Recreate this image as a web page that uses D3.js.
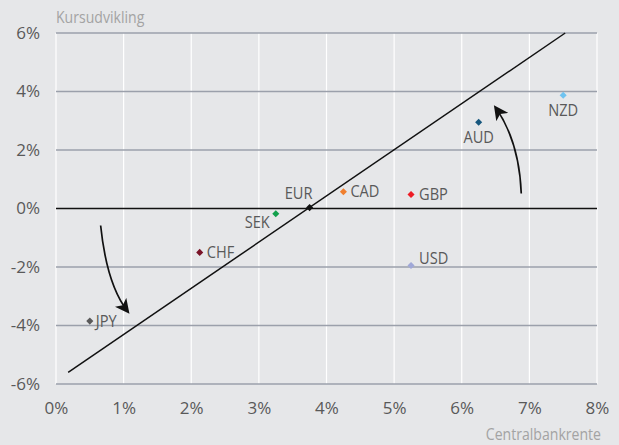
<!DOCTYPE html>
<html>
<head>
<meta charset="utf-8">
<script src="https://cdn.jsdelivr.net/npm/d3@7"></script>
<style>
  html, body { margin: 0; padding: 0; background: #e6e7e9; }
  svg { display: block; }
  text { font-family: "Open Sans", sans-serif; }
</style>
</head>
<body>
<svg id="chart" width="619" height="445"></svg>
<script>
// Currencies: central bank rate (%) vs. exchange-rate change (%)
const currencies = ["JPY", "CHF", "SEK", "EUR", "CAD", "GBP", "USD", "AUD", "NZD"];
const policyRate = [0.5, 2.125, 3.25, 3.75, 4.25, 5.25, 5.25, 6.25, 7.5];
const fxChange   = [-3.85, -1.5, -0.18, 0.03, 0.57, 0.48, -1.95, 2.95, 3.87];
const pointColors = ["#5a5a5a", "#7a1428", "#12a04c", "#111111", "#f07f2e", "#ee1c25", "#a0a8d8", "#17577e", "#6fc3f0"];

// Regression-style line (endpoints in data units)
const trendX = [0.18, 7.53];
const trendY = [-5.6, 6.0];

const xTicks = [0, 1, 2, 3, 4, 5, 6, 7, 8];
const yTicks = [-6, -4, -2, 0, 2, 4, 6];

const svg = d3.select("#chart");
const plotL = 56, plotR = 597, plotT = 33, plotB = 384;

const x = d3.scaleLinear().domain([0, 8]).range([plotL, plotR]);
const y = d3.scaleLinear().domain([-6, 6]).range([plotB, plotT]);

// Narrow a text horizontally around its own anchor point
function squeeze(sel, s) {
  sel.each(function () {
    const t = d3.select(this);
    const tx = +t.attr("x") || 0, ty = +t.attr("y") || 0;
    t.attr("transform", `translate(${tx},${ty}) scale(${s},1)`).attr("x", 0).attr("y", 0);
  });
}

// Vertical gridlines (white)
svg.append("g").selectAll("line").data(xTicks).join("line")
  .attr("x1", d => x(d)).attr("x2", d => x(d))
  .attr("y1", plotT).attr("y2", plotB)
  .attr("stroke", "#ffffff").attr("stroke-width", 1.2);

// Horizontal gridlines (grey)
svg.append("g").selectAll("line").data(yTicks.filter(d => d !== 0)).join("line")
  .attr("x1", plotL).attr("x2", plotR)
  .attr("y1", d => y(d)).attr("y2", d => y(d))
  .attr("stroke", "#9ba0ab").attr("stroke-width", 1.3);

// Zero line
svg.append("line")
  .attr("x1", plotL).attr("x2", plotR)
  .attr("y1", y(0)).attr("y2", y(0))
  .attr("stroke", "#111").attr("stroke-width", 1.5);

const tickFont = "'Open Sans', sans-serif";

// Axis tick labels via d3 axes
const yAxis = d3.axisLeft(y).tickValues(yTicks).tickSize(0).tickPadding(16)
  .tickFormat(d => d + "%");
svg.append("g").attr("transform", `translate(${plotL},0)`).call(yAxis)
  .call(g => g.select(".domain").remove())
  .call(g => g.selectAll("text").attr("fill", "#595959").style("font-size", "17px")
    .style("font-family", tickFont));

const xAxis = d3.axisBottom(x).tickValues(xTicks).tickSize(0).tickPadding(18)
  .tickFormat(d => d + "%");
svg.append("g").attr("transform", `translate(0,${plotB})`).call(xAxis)
  .call(g => g.select(".domain").remove())
  .call(g => g.selectAll("text").attr("fill", "#595959").style("font-size", "17px")
    .style("font-family", tickFont));

// Axis titles
svg.append("text").attr("x", plotL).attr("y", 23)
  .attr("fill", "#a3a3a3").style("font-size", "16px").text("Kursudvikling")
  .call(squeeze, 0.88);
svg.append("text").attr("x", plotR + 4).attr("y", 440).attr("text-anchor", "end")
  .attr("fill", "#a3a3a3").style("font-size", "16px").text("Centralbankrente")
  .call(squeeze, 0.88);

// Trend line
svg.append("line")
  .attr("x1", x(trendX[0])).attr("y1", y(trendY[0]))
  .attr("x2", x(trendX[1])).attr("y2", y(trendY[1]))
  .attr("stroke", "#111").attr("stroke-width", 1.5);

// Arrows
const defs = svg.append("defs");
defs.append("marker").attr("id", "arrowhead")
  .attr("viewBox", "0 0 10 10").attr("refX", 8).attr("refY", 5)
  .attr("markerWidth", 8.5).attr("markerHeight", 8.5).attr("orient", "auto")
  .attr("markerUnits", "strokeWidth")
  .append("path").attr("d", "M0,0 L10,5 L0,10 L2.5,5 Z").attr("fill", "#111");

const arrows = [
  { from: [0.66, -0.58], ctrl: [0.75, -2.6], to: [1.06, -3.52] },
  { from: [6.88, 0.51], ctrl: [6.85, 2.3], to: [6.5, 3.45] }
];
svg.append("g").selectAll("path").data(arrows).join("path")
  .attr("d", a => {
    const p = d3.path();
    p.moveTo(x(a.from[0]), y(a.from[1]));
    p.quadraticCurveTo(x(a.ctrl[0]), y(a.ctrl[1]), x(a.to[0]), y(a.to[1]));
    return p.toString();
  })
  .attr("fill", "none").attr("stroke", "#111").attr("stroke-width", 1.7)
  .attr("marker-end", "url(#arrowhead)");

// Points
const data = currencies.map((c, i) => ({ c, px: policyRate[i], fx: fxChange[i], col: pointColors[i] }));
const diamond = d3.symbol().type(d3.symbolDiamond2).size(32);
svg.append("g").selectAll("path").data(data).join("path")
  .attr("transform", d => `translate(${x(d.px)},${y(d.fx)})`)
  .attr("d", diamond).attr("fill", d => d.col);

// Labels
const labelPos = {
  JPY: { dx: 6, dy: 6, anchor: "start" },
  CHF: { dx: 7, dy: 6, anchor: "start" },
  SEK: { dx: -6, dy: 14, anchor: "end" },
  EUR: { dx: -11, dy: -9, anchor: "middle" },
  CAD: { dx: 7, dy: 5, anchor: "start" },
  GBP: { dx: 8, dy: 6, anchor: "start" },
  USD: { dx: 8, dy: -2, anchor: "start" },
  AUD: { dx: 0, dy: 21, anchor: "middle" },
  NZD: { dx: 0, dy: 21, anchor: "middle" }
};
svg.append("g").selectAll("text").data(data).join("text")
  .attr("x", d => x(d.px) + labelPos[d.c].dx)
  .attr("y", d => y(d.fx) + labelPos[d.c].dy)
  .attr("text-anchor", d => labelPos[d.c].anchor)
  .attr("fill", "#595959").style("font-size", "17px")
  .text(d => d.c)
  .call(squeeze, 0.86);
</script>
</body>
</html>
